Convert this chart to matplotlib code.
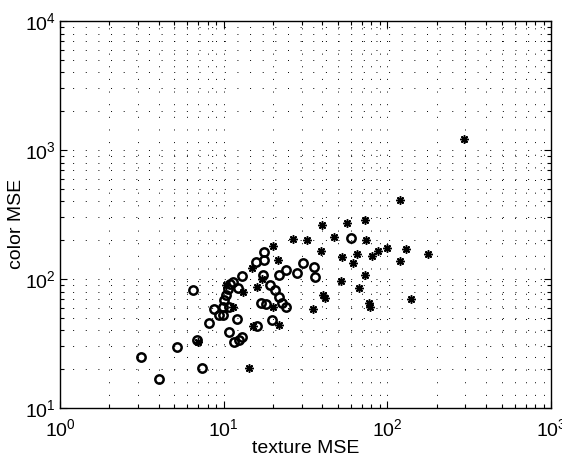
import matplotlib
matplotlib.use('Agg')
import matplotlib.pyplot as plt
from matplotlib.ticker import LogLocator, NullFormatter

plt.rcParams['font.family'] = ['Liberation Sans', 'DejaVu Sans']
plt.rcParams['mathtext.fontset'] = 'custom'
plt.rcParams['mathtext.rm'] = 'Liberation Sans'
plt.rcParams['mathtext.it'] = 'Liberation Sans:italic'
plt.rcParams['mathtext.bf'] = 'Liberation Sans:bold'

# circle series (o)
circle_texture = [6.49, 3.12, 4.02, 5.18, 6.87, 7.37, 8.13, 8.72, 9.36, 9.90,
                  9.90, 10.04, 10.33, 10.62, 10.93, 11.40, 10.77, 12.23, 12.93, 12.06,
                  10.77, 11.56, 12.40, 12.93, 15.97, 15.75, 17.63, 17.63, 17.38, 19.18,
                  20.58, 21.77, 22.71, 24.02, 16.90, 18.13, 19.72, 21.77, 24.02, 28.04,
                  30.51, 35.61, 36.12, 59.9]
circle_color = [82.2, 24.9, 16.8, 29.7, 33.7, 20.4, 45.6, 58.5, 52.6, 52.6,
                60.7, 68.7, 75.2, 83.6, 91.4, 94.9, 60.7, 85.1, 105.5, 48.9,
                38.8, 32.5, 33.7, 35.5, 43.3, 135.5, 161.8, 140.3, 107.4, 89.9,
                82.2, 72.5, 65.2, 60.7, 65.2, 64.0, 48.1, 107.4, 117.5, 111.3,
                133.0, 123.9, 103.6, 207.9]

# asterisk series (*)
star_texture = [293.8, 119.4, 39.86, 56.63, 72.98, 26.5, 32.28, 47.19, 74.0, 39.3,
                52.8, 65.2, 61.7, 80.5, 87.6, 99.4, 129.9, 119.4, 177.0, 72.98,
                52.1, 67.1, 40.4, 41.6, 77.2, 78.3, 139.4, 35.1, 20.0, 21.46,
                14.89, 15.97, 13.12, 10.33, 11.40, 20.0, 21.77, 15.1, 6.97, 14.28,
                17.14]
star_color = [1216, 409, 262, 271.6, 286.6, 204.2, 200.5, 211.6, 200.5, 164.9,
              148.1, 156.4, 133.0, 150.7, 164.9, 173.8, 170.9, 137.9, 156.4, 107.4,
              96.5, 85.1, 75.2, 71.2, 65.2, 60.7, 70.0, 58.5, 180.3, 140.3,
              121.6, 86.7, 79.3, 89.9, 60.7, 60.7, 44.0, 43.3, 32.5, 20.4,
              100.0]

x_ticks = [1, 10, 100, 1000]
x_ticklabels = ['$10^{0}$', '$10^{1}$', '$10^{2}$', '$10^{3}$']
y_ticks = [10, 100, 1000, 10000]
y_ticklabels = ['$10^{1}$', '$10^{2}$', '$10^{3}$', '$10^{4}$']

fig = plt.figure(figsize=(5.62, 4.59), dpi=100)
ax = fig.add_axes([60 / 562, 51 / 459, 491 / 562, 387 / 459])
ax.set_xscale('log')
ax.set_yscale('log')

ax.plot(star_texture, star_color, linestyle='none', marker=(8, 2, 0),
        markersize=6, markeredgewidth=1.1, color='black')
ax.plot(circle_texture, circle_color, linestyle='none', marker='o',
        markersize=6, markeredgewidth=1.8, markerfacecolor='none',
        markeredgecolor='black')

ax.set_xlim(1, 1000)
ax.set_ylim(10, 10000)
ax.set_xticks(x_ticks)
ax.set_xticklabels(x_ticklabels)
ax.set_yticks(y_ticks)
ax.set_yticklabels(y_ticklabels)
ax.xaxis.set_minor_locator(LogLocator(base=10, subs=range(2, 10)))
ax.yaxis.set_minor_locator(LogLocator(base=10, subs=range(2, 10)))
ax.xaxis.set_minor_formatter(NullFormatter())
ax.yaxis.set_minor_formatter(NullFormatter())

ax.grid(True, which='both', color='black', linestyle=(0, (1, 12)), linewidth=0.7)
ax.set_axisbelow(True)

ax.tick_params(which='both', direction='in', top=True, right=True,
               labelsize=14, width=0.8)
ax.tick_params(which='major', length=5)
ax.tick_params(which='minor', length=3)
ax.tick_params(axis='x', pad=7)
ax.tick_params(axis='y', pad=3)
for s in ax.spines.values():
    s.set_linewidth(1.0)

ax.set_xlabel('texture MSE', fontsize=14)
ax.set_ylabel('color MSE', fontsize=14)
ax.xaxis.set_label_coords(0.5, -0.082)
ax.yaxis.set_label_coords(-0.072, 0.475)

fig.savefig('out.png', dpi=100)
